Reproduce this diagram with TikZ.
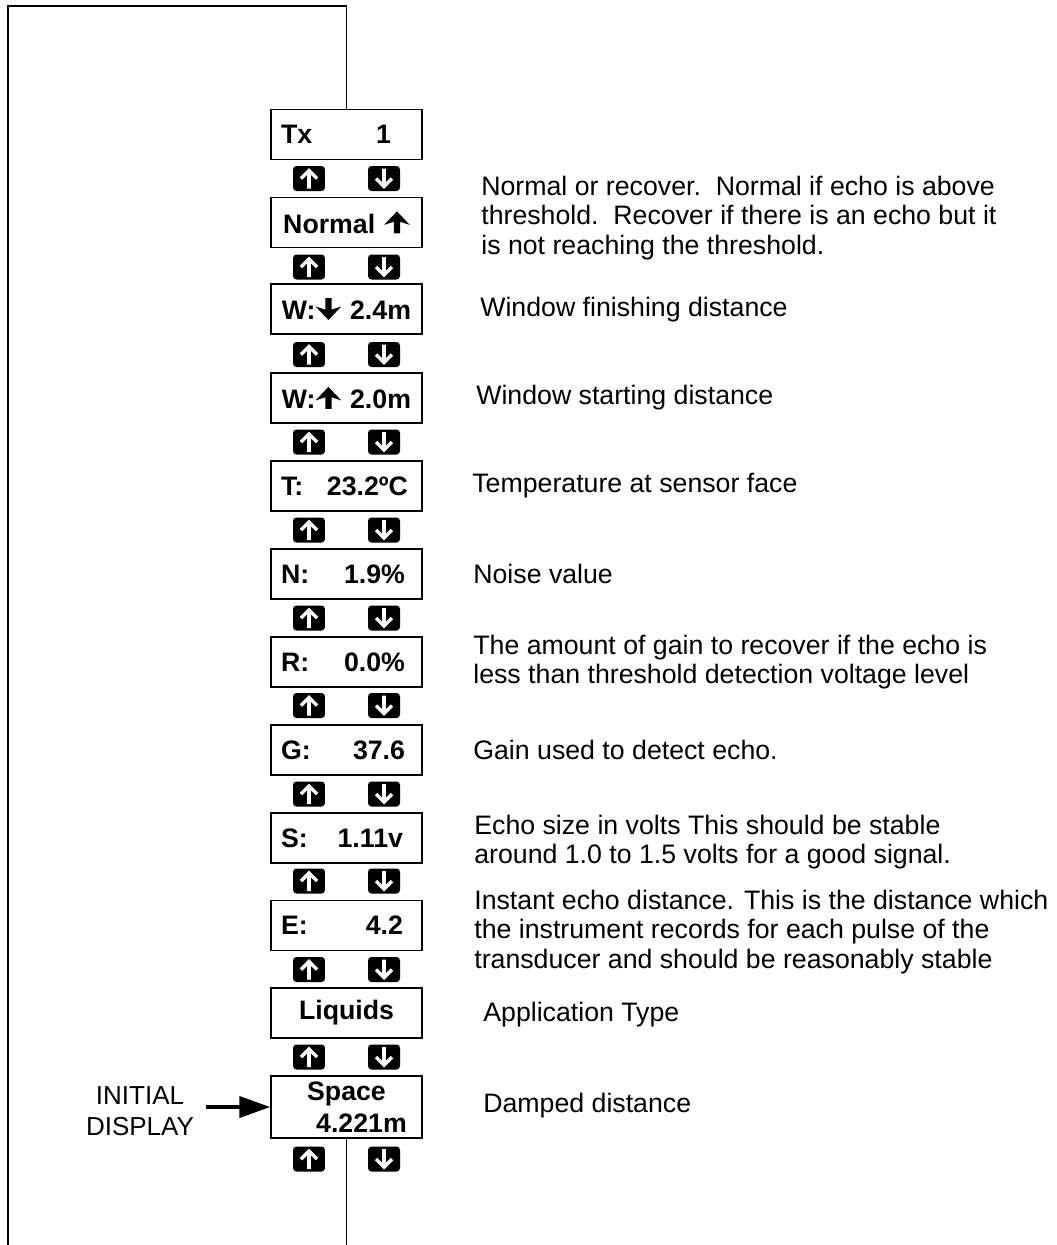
\documentclass[tikz,border=0pt]{standalone}
\usepackage{fontspec}
\setmainfont{Liberation Sans}
\usetikzlibrary{positioning,arrows.meta}

% solid arrows used inside the display texts
\newcommand{\upglyph}{\tikz[x=1pt,y=1pt,baseline=0pt]\fill (0,12.5) -- (7.3,4.8) -- (1.8,6.6) -- (1.8,0) -- (-1.8,0) -- (-1.8,6.6) -- (-7.3,4.8) -- cycle;}
\newcommand{\downglyph}{\tikz[x=1pt,y=1pt,baseline=0pt]\fill (0,0) -- (7.3,7.7) -- (1.8,5.9) -- (1.8,12.5) -- (-1.8,12.5) -- (-1.8,5.9) -- (-7.3,7.7) -- cycle;}

\begin{document}
\begin{tikzpicture}[
  x=0.02cm, y=-0.02cm,
  disp/.style={draw, line width=0.85pt, minimum width=3.02cm, minimum height=1cm,
    inner xsep=0.2cm, inner ysep=0pt, text width=2.62cm,
    font=\fontsize{15.2}{17}\selectfont\bfseries},
  btn/.style={fill=black, rounded corners=2pt, minimum width=0.64cm, minimum height=0.5cm, inner sep=0pt},
  btnglyph/.style={white, line width=2pt},
  desc/.style={anchor=west, align=left, inner sep=0pt, font=\fontsize{15.2}{16.7}\selectfont},
  wire/.style={line width=0.8pt},
  initarr/.style={line width=2.3pt, -{Triangle[length=0.62cm, width=0.42cm]}},
]
  \useasboundingbox (0,0) rectangle (1056,1245);

  % Display boxes
  \node[disp, align=left]   (tx)     at (346.5,134.5) {Tx\hfill 1\hspace*{0.42cm}\null};
  \node[disp, align=center] (mode)   at (346.5,222.5) {Normal \upglyph};
  \node[disp, align=center] (wend)   at (346.5,309)   {W:\downglyph{} 2.4m};
  \node[disp, align=center] (wstart) at (346.5,398)   {W:\upglyph{} 2.0m};
  \node[disp, align=left]   (temp)   at (346.5,486)   {T:\hfill 23.2ºC\hspace*{0.08cm}\null};
  \node[disp, align=left]   (noise)  at (346.5,574)   {N:\hfill 1.9\%\hspace*{0.14cm}\null};
  \node[disp, align=left]   (recov)  at (346.5,662)   {R:\hfill 0.0\%\hspace*{0.14cm}\null};
  \node[disp, align=left]   (gain)   at (346.5,750)   {G:\hfill 37.6\hspace*{0.14cm}\null};
  \node[disp, align=left]   (size)   at (346.5,838)   {S:\hfill 1.11v\hspace*{0.18cm}\null};
  \node[disp, align=left]   (echo)   at (346.5,925.5) {E:\hfill 4.2\hspace*{0.18cm}\null};
  \node[disp, align=center] (app)    at (346.5,1013)  {Liquids};
  \node[disp, align=center, minimum height=1.24cm] (space) at (346.5,1107)
    {Space\\[1.5pt]\hspace*{0.6cm}4.221m};

  % Up / down keys under each box
  \foreach \r/\y in {1/178.5, 2/267, 3/354.5, 4/442, 5/530, 6/618,
                     7/705.5, 8/794, 9/881, 10/969.5, 11/1057, 12/1159} {
    \node[btn] (up\r) at (309,\y) {};
    \node[btn] (dn\r) at (384,\y) {};
    \draw[btnglyph, shift={(up\r)}] (0,10) -- (0,-8) (-8,0) -- (0,-8) -- (8,0);
    \draw[btnglyph, shift={(dn\r)}] (0,-10) -- (0,8) (-8,0) -- (0,8) -- (8,0);
  }

  % Descriptions
  \node[desc] (dmode)   at (481,218)  {Normal or recover.\ \ Normal if echo is above\\threshold.\ \ Recover if there is an echo but it\\is not reaching the threshold.};
  \node[desc] (dwend)   at (480,310)  {Window finishing distance};
  \node[desc] (dwstart) at (476,398)  {Window starting distance};
  \node[desc] (dtemp)   at (472,486)  {Temperature at sensor face};
  \node[desc] (dnoise)  at (473,574)  {Noise value};
  \node[desc] (drecov)  at (473,662)  {The amount of gain to recover if the echo is\\less than threshold detection voltage level};
  \node[desc] (dgain)   at (473,750)  {Gain used to detect echo.};
  \node[desc] (dsize)   at (474,842)  {Echo size in volts This should be stable\\around 1.0 to 1.5 volts for a good signal.};
  \node[desc] (decho)   at (474,932)  {Instant echo distance. This is the distance which\\the instrument records for each pulse of the\\transducer and should be reasonably stable};
  \node[desc] (dapp)    at (483,1015) {Application Type};
  \node[desc] (dspace)  at (483,1106) {Damped distance};

  % Initial display pointer
  \node[align=center, inner xsep=0.24cm, font=\fontsize{14.8}{18}\selectfont] (init) at (140,1111) {INITIAL\\DISPLAY};
  \draw[initarr] (init.east |- space.west) -- (space.west);

  % Loop back from last display to first
  \coordinate (loopbl) at (8,1245);
  \coordinate (looptl) at (8,6);
  \coordinate (loopbr) at (346.5,1245);
  \draw[wire] (loopbl) -- (looptl) -| (tx.north);
  \draw[wire] (space.south) -- (loopbr);
\end{tikzpicture}
\end{document}
